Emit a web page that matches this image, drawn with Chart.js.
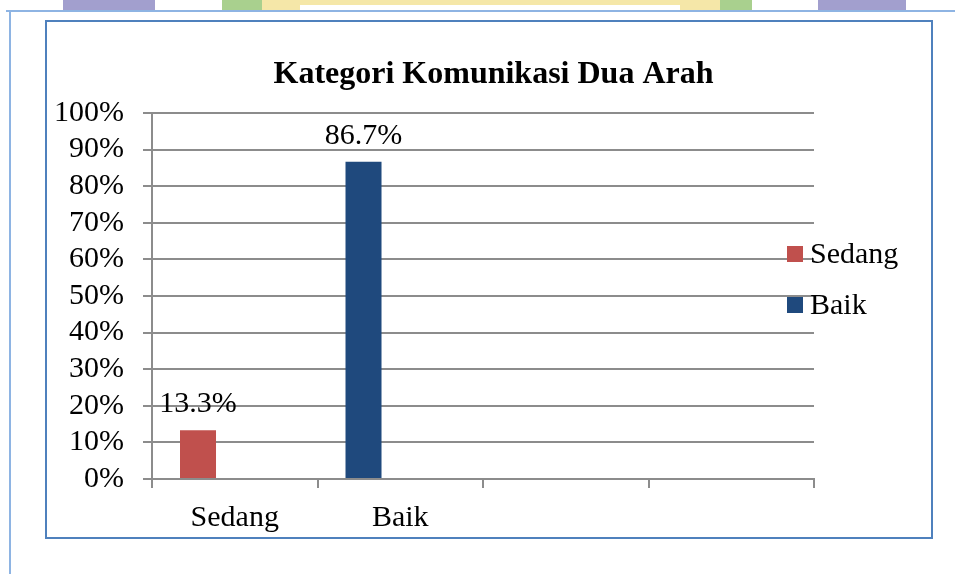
<!DOCTYPE html>
<html>
<head>
	<title>Kategori Komunikasi Dua Arah</title>
	<script src="https://cdn.jsdelivr.net/npm/chart.js"></script>
	<style>
		body { margin: 0; background: #fff; width: 955px; height: 574px; overflow: hidden; position: relative; }
		.wm { position: absolute; top: 0; height: 11px; }
		.frame-top { position: absolute; left: 6px; top: 10px; width: 949px; height: 0; border-top: 2px solid #8eb4e3; }
		.frame-left { position: absolute; left: 9px; top: 10px; width: 0; height: 564px; border-left: 2px solid #8eb4e3; }
		.box { position: absolute; left: 45px; top: 20px; width: 884px; height: 515px; border: 2px solid #4f81bd; background: #fff; }
		#myChart { position: absolute; left: 0; top: 0; }
	</style>
</head>
<body>
	<div class="wm" style="left:63px;width:92px;background:#a29fce"></div>
	<div class="wm" style="left:222px;width:40px;background:#a9d08e"></div>
	<div class="wm" style="left:262px;width:458px;background:#f5e7a8"></div>
	<div class="wm" style="left:300px;width:380px;top:5px;height:6px;background:#fff"></div>
	<div class="wm" style="left:720px;width:32px;background:#a9d08e"></div>
	<div class="wm" style="left:818px;width:88px;background:#a29fce"></div>
	<div class="frame-top"></div>
	<div class="frame-left"></div>
	<div class="box"></div>
	<canvas id="myChart" width="955" height="574"></canvas>

<script>
    const categories = ['Sedang', 'Baik', '', ''];
    const seriesNames = ['Sedang', 'Baik'];
    const sedangValues = [13.3, null, null, null];
    const baikValues = [null, 86.7, null, null];
    const seriesColors = ['#c0504d', '#1f497d'];

    Chart.defaults.font.family = "'Liberation Serif', 'Times New Roman', serif";
    Chart.defaults.font.size = 30;
    Chart.defaults.color = '#000';

    // labels over the bars and the legend that sits over the plot, like the Excel one
    const extras = {
        id: 'extras',
        afterDatasetsDraw(chart) {
            const c = chart.ctx;
            c.save();
            c.font = "30px 'Liberation Serif', serif";
            c.fillStyle = '#000';
            c.textAlign = 'center';
            c.textBaseline = 'alphabetic';
            chart.data.datasets.forEach((ds, i) => {
                if (!ds.label) return;
                chart.getDatasetMeta(i).data.forEach((bar, j) => {
                    const v = ds.data[j];
                    if (v === null) return;
                    c.fillText(v.toFixed(1) + '%', bar.x, bar.y - 18);
                });
            });
            c.textAlign = 'left';
            chart.data.datasets.forEach((ds, i) => {
                if (!ds.label) return;
                c.fillStyle = ds.backgroundColor;
                c.fillRect(787, 246 + i * 51, 16, 16);
                c.fillStyle = '#000';
                c.fillText(ds.label, 810, 263 + i * 51);
            });
            c.restore();
        }
    };

    const ctx = document.getElementById('myChart');
    new Chart(ctx, {
        type: 'bar',
        data: {
            labels: categories,
            datasets: [
                { label: seriesNames[0], data: sedangValues, backgroundColor: seriesColors[0], stack: 's' },
                { label: seriesNames[1], data: baikValues, backgroundColor: seriesColors[1], stack: 's' },
                { label: '', data: [null, null, null, null], stack: 'gap' }
            ]
        },
        plugins: [extras],
        options: {
            responsive: false,
            animation: false,
            barPercentage: 0.49,
            categoryPercentage: 0.888,
            layout: { padding: { left: 56, right: 24, top: 0, bottom: 0 } },
            plugins: {
                legend: { display: false },
                tooltip: { enabled: false },
                title: {
                    display: true,
                    text: 'Kategori Komunikasi Dua Arah',
                    color: '#000',
                    font: { size: 32, weight: 'bold', lineHeight: 1.125 },
                    padding: { top: 57, bottom: 20 }
                }
            },
            scales: {
                x: {
                    grid: { display: true, drawOnChartArea: false, drawTicks: true, tickLength: 9, color: '#8c8c8c', lineWidth: 2 },
                    border: { display: true, color: '#8c8c8c', width: 2 },
                    ticks: { padding: 12, maxRotation: 0, autoSkip: false },
                    afterFit(scale) { scale.height = 95; }
                },
                y: {
                    stacked: true,
                    min: 0,
                    max: 100,
                    ticks: { stepSize: 10, autoSkip: false, padding: 19, callback: v => v + '%' },
                    grid: { color: '#8c8c8c', lineWidth: 2, tickLength: 9 },
                    border: { display: true, color: '#8c8c8c', width: 2 },
                    afterFit(scale) { scale.width = 96; }
                },
                y2: {
                    position: 'right',
                    ticks: { display: false },
                    grid: { display: false },
                    border: { display: false },
                    afterFit(scale) { scale.width = 117; }
                }
            }
        }
    });
</script>
</body>
</html>
